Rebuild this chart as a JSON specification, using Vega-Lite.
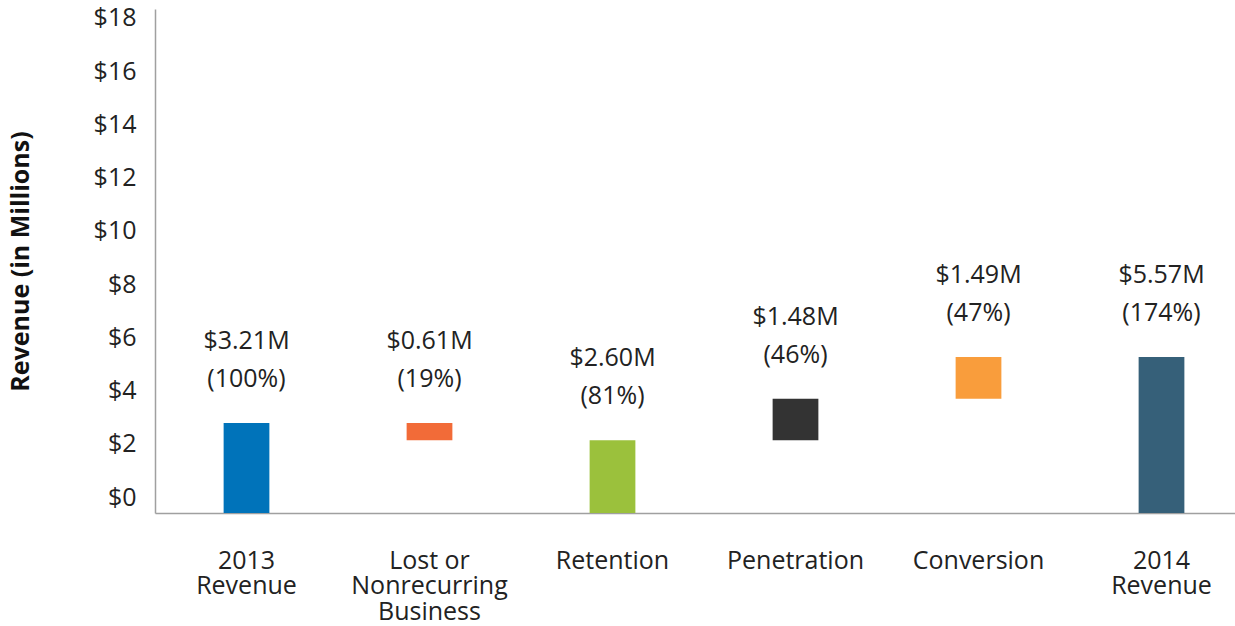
{
  "$schema": "https://vega.github.io/schema/vega-lite/v6.json",
  "width": 1080,
  "height": 504,
  "autosize": {"type": "none"},
  "padding": {"left": 155, "top": 9, "right": 0, "bottom": 113},
  "config": {
    "view": {"stroke": null},
    "font": "Open Sans",
    "text": {"color": "#222222"}
  },
  "data": {
    "values": [
      {"cat": "2013 Revenue", "start": 0, "end": 3.21, "top": 3.21, "label": "$3.21M\n(100%)"},
      {"cat": "Lost or Nonrecurring Business", "start": 2.60, "end": 3.21, "top": 3.21, "label": "$0.61M\n(19%)"},
      {"cat": "Retention", "start": 0, "end": 2.60, "top": 2.60, "label": "$2.60M\n(81%)"},
      {"cat": "Penetration", "start": 2.60, "end": 4.08, "top": 4.08, "label": "$1.48M\n(46%)"},
      {"cat": "Conversion", "start": 4.08, "end": 5.57, "top": 5.57, "label": "$1.49M\n(47%)"},
      {"cat": "2014 Revenue", "start": 0, "end": 5.57, "top": 5.57, "label": "$5.57M\n(174%)"}
    ]
  },
  "layer": [
    {
      "mark": {"type": "bar", "width": {"band": 0.25}},
      "encoding": {
        "x": {
          "field": "cat", "type": "nominal", "sort": null,
          "scale": {"range": [0, 1098], "paddingInner": 0, "paddingOuter": 0},
          "axis": {
            "title": null,
            "ticks": false,
            "domainColor": "#a0a0a0",
            "domainWidth": 1.5,
            "labelAngle": 0,
            "labelFont": "Open Sans",
            "labelFontSize": 25,
            "labelColor": "#222222",
            "labelBaseline": "top",
            "labelPadding": 35,
            "labelLineHeight": 25.5,
            "labelExpr": "datum.label == '2013 Revenue' ? ['2013','Revenue'] : datum.label == 'Lost or Nonrecurring Business' ? ['Lost or','Nonrecurring','Business'] : datum.label == '2014 Revenue' ? ['2014','Revenue'] : datum.label"
          }
        },
        "y": {"field": "start", "type": "quantitative", "scale": {"domain": [0, 18], "nice": false}, "axis": null},
        "y2": {"field": "end"},
        "color": {
          "field": "cat", "type": "nominal", "legend": null,
          "scale": {
            "domain": ["2013 Revenue", "Lost or Nonrecurring Business", "Retention", "Penetration", "Conversion", "2014 Revenue"],
            "range": ["#0073BA", "#F26B38", "#9BC13C", "#333333", "#F99D3C", "#366079"]
          }
        }
      }
    },
    {
      "mark": {"type": "text", "fontSize": 25, "baseline": "middle", "align": "center", "lineBreak": "\n", "lineHeight": 38, "dy": -82, "color": "#222222"},
      "encoding": {
        "x": {"field": "cat", "type": "nominal", "sort": null},
        "y": {"field": "top", "type": "quantitative", "scale": {"domain": [0, 18], "nice": false}, "axis": null},
        "text": {"field": "label"}
      }
    },
    {
      "mark": {"type": "point", "opacity": 0},
      "encoding": {
        "x": {"field": "cat", "type": "nominal", "sort": null},
        "y": {
          "field": "top", "type": "quantitative",
          "scale": {"domain": [-0.601, 18.338], "nice": false, "zero": false},
          "axis": {
            "orient": "left",
            "title": "Revenue (in Millions)",
            "titleFont": "Open Sans",
            "titleFontSize": 25,
            "titleFontWeight": "bold",
            "titleColor": "#111111",
            "titlePadding": 60,
            "values": [0, 2, 4, 6, 8, 10, 12, 14, 16, 18],
            "labelExpr": "'$' + datum.value",
            "ticks": false,
            "grid": false,
            "domainColor": "#a0a0a0",
            "domainWidth": 1.5,
            "labelFont": "Open Sans",
            "labelFontSize": 25,
            "labelColor": "#222222",
            "labelPadding": 19,
            "labelBaseline": "middle"
          }
        }
      }
    }
  ],
  "resolve": {"scale": {"y": "independent"}}
}
